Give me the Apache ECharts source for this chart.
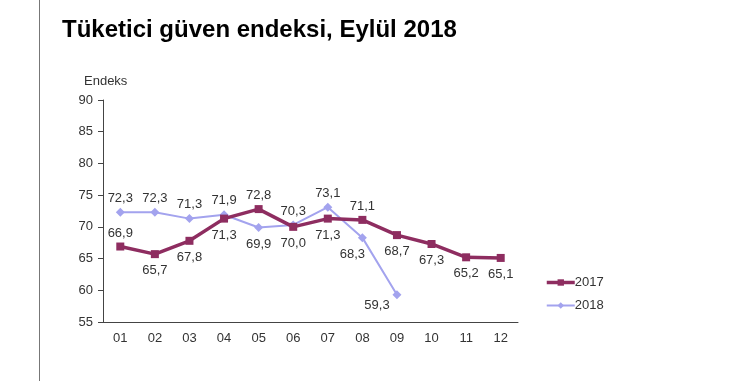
<!DOCTYPE html>
<html><head><meta charset="utf-8">
<script src="https://cdn.jsdelivr.net/npm/echarts@6/dist/echarts.min.js"></script>
<style>html,body{margin:0;padding:0;background:#fff}#c{width:735px;height:381px}</style>
</head><body><div id="c"></div>
<script>
const categories = ['01','02','03','04','05','06','07','08','09','10','11','12'];
const values2017 = [66.9,65.7,67.8,71.3,72.8,70.0,71.3,71.1,68.7,67.3,65.2,65.1];
const values2018 = [72.3,72.3,71.3,71.9,69.9,70.3,73.1,68.3,59.3];
const pos2017 = ['top','bottom','bottom','bottom','top','bottom','bottom','top','bottom','bottom','bottom','bottom'];
const pos2018 = ['top','top','top','top','bottom','top','top','bottom','bottom'];
const yTicks = [55,60,65,70,75,80,85,90];

const fmt = v => v.toFixed(1).replace('.', ',');
const chart = echarts.init(document.getElementById('c'), null, {renderer:'canvas'});
const FONT = 'Liberation Sans, Arial';
const lab = (p, extra) => Object.assign({show:true, position:p, distance:p==='top'?3:6, color:'#333', fontSize:13, fontFamily:FONT,
  formatter: o => fmt(o.value)}, extra||{});
chart.setOption({
  animation:false,
  graphic:[{type:'rect', shape:{x:39,y:0,width:1,height:381}, style:{fill:'#777'}}],
  title:{text:'Tüketici güven endeksi, Eylül 2018', left:57, top:13,
    textStyle:{fontFamily:FONT, fontWeight:'bold', fontSize:24, color:'#000'}},
  grid:{left:103, right:217, top:100, bottom:59},
  legend:{orient:'vertical', left:540, top:271, itemWidth:28, itemHeight:8, itemGap:10,
    textStyle:{fontFamily:FONT, fontSize:13, color:'#333', padding:[0,0,0,-5]},
    data:[{name:'2017', lineStyle:{width:3.5}}, {name:'2018', lineStyle:{width:2}}]},
  xAxis:{type:'category', data:categories, boundaryGap:true,
    axisLine:{lineStyle:{color:'#444'}},
    axisTick:{alignWithLabel:true, length:4, lineStyle:{color:'#444'}},
    axisLabel:{color:'#333', fontSize:13, fontFamily:FONT, margin:10}},
  yAxis:{type:'value', min:55, max:90, interval:5, name:'Endeks',
    nameLocation:'end', nameGap:12, nameTextStyle:{color:'#333', fontSize:13, fontFamily:FONT, align:'left', padding:[0,0,0,-19]},
    axisLine:{show:true, lineStyle:{color:'#444'}},
    axisTick:{show:true, length:5, lineStyle:{color:'#444'}},
    splitLine:{show:false},
    axisLabel:{color:'#333', fontSize:13, fontFamily:FONT, margin:10,
      formatter: v => yTicks.includes(v) ? String(v) : ''}},
  series:[
    {name:'2017', type:'line', symbol:'rect', symbolSize:8,
      lineStyle:{color:'#8E2D60', width:3.5}, itemStyle:{color:'#8E2D60'},
      data: values2017.map((v,i)=>({value:v, label:lab(pos2017[i])})), z:3},
    {name:'2018', type:'line', symbol:'diamond', symbolSize:9,
      lineStyle:{color:'#A3A3EE', width:2}, itemStyle:{color:'#A3A3EE'},
      data: values2018.map((v,i)=>{
        let extra = {};
        if (i===7) extra = {offset:[-10,0]};
        if (i===8) extra = {offset:[-20,-6]};
        return {value:v, label:lab(pos2018[i], extra)};
      }), z:2}
  ]
});
</script></body></html>
